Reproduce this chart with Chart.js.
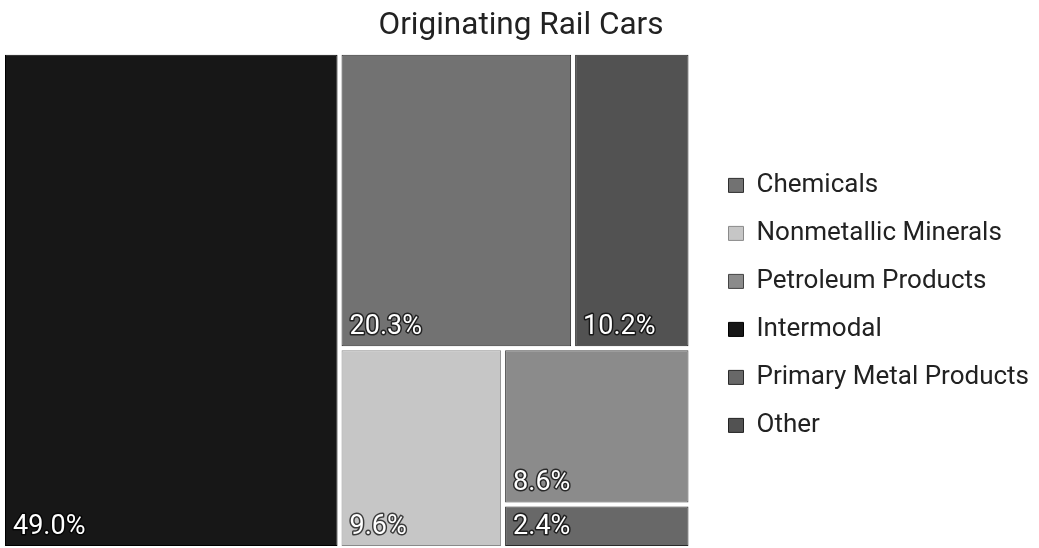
<!DOCTYPE html>
<html>
<head>
<meta charset="utf-8">
<title>Originating Rail Cars</title>
<script src="https://cdn.jsdelivr.net/npm/chart.js@4.4.1/dist/chart.umd.min.js"></script>
<style>
  html, body { margin: 0; padding: 0; background: #ffffff; }
  #box { width: 1039px; height: 548px; }
</style>
</head>
<body>
<div id="box"><canvas id="chart-rail"></canvas></div>
<script>
// Commodity groups, in legend order
const categories = [
  "Chemicals",
  "Nonmetallic Minerals",
  "Petroleum Products",
  "Intermodal",
  "Primary Metal Products",
  "Other",
];
// Share of originating rail cars, percent
const shares = [20.3, 9.6, 8.6, 49.0, 2.4, 10.2];
const shareLabels = shares.map((v) => v.toFixed(1) + "%");

const fillColors = ["#727272", "#c6c6c6", "#8b8b8b", "#171717", "#686868", "#525252"];
const edgeColors = ["#2e2e2e", "#8a8a8a", "#444444", "#000000", "#2a2a2a", "#222222"];

/**
 * Squarified layout (d3 style, with a squareness ratio).
 * Works in a w x h box measured from the top-left; returns one cell per value.
 */
function squarify(values, w, h, ratio) {
  const order = values.map((v, i) => i).sort((a, b) => values[b] - values[a]);
  const cells = new Array(values.length);
  let x0 = 0, y0 = 0;
  const x1 = w, y1 = h;
  let remaining = values.reduce((s, v) => s + v, 0);
  let i0 = 0;

  while (i0 < order.length) {
    const dx = x1 - x0;
    const dy = y1 - y0;
    const alpha = Math.max(dy / dx, dx / dy) / (remaining * ratio);
    let sum = values[order[i0]];
    let minV = sum;
    let maxV = sum;
    let beta = sum * sum * alpha;
    let best = Math.max(maxV / beta, beta / minV);
    let i1 = i0 + 1;
    for (; i1 < order.length; i1++) {
      const v = values[order[i1]];
      const s = sum + v;
      const mn = Math.min(minV, v);
      const mx = Math.max(maxV, v);
      beta = s * s * alpha;
      const r = Math.max(mx / beta, beta / mn);
      if (r > best) break;
      sum = s; minV = mn; maxV = mx; best = r;
    }
    const row = order.slice(i0, i1);
    const last = i1 >= order.length;

    if (dx < dy) {
      // strip along the top edge
      const sh = last ? dy : (dy * sum) / remaining;
      let cx = x0;
      row.forEach((k) => {
        const cw = (dx * values[k]) / sum;
        cells[k] = { x0: cx, y0: y0, x1: cx + cw, y1: y0 + sh };
        cx += cw;
      });
      y0 += sh;
    } else {
      // strip along the left edge
      const sw = last ? dx : (dx * sum) / remaining;
      let cy = y0;
      row.forEach((k) => {
        const ch = (dy * values[k]) / sum;
        cells[k] = { x0: x0, y0: cy, x1: x0 + sw, y1: cy + ch };
        cy += ch;
      });
      x0 += sw;
    }
    remaining -= sum;
    i0 = i1;
  }
  return cells;
}

// Treemap controller: each value becomes a BarElement placed through the x/y scales.
// The map fills x in [0, 1] and y in [0, 1]; the x scale runs a little past 1
// to leave a gutter before the legend.
class TreemapController extends Chart.DatasetController {
  update(mode) {
    const meta = this._cachedMeta;
    this.updateElements(meta.data, 0, meta.data.length, mode);
  }

  updateElements(rects, start, count, mode) {
    const { xScale, yScale } = this._cachedMeta;
    const ds = this.getDataset();
    const pxW = xScale.getPixelForValue(1) - xScale.getPixelForValue(0);
    const pxH = yScale.getPixelForValue(0) - yScale.getPixelForValue(1);
    const aspect = pxW / pxH;
    const cells = squarify(ds.data, aspect, 1, ds.squareRatio || 1);
    const gap = ds.spacing || 0;

    for (let i = start; i < start + count; i++) {
      const c = cells[i];
      const left = xScale.getPixelForValue(c.x0 / aspect) + gap;
      const right = xScale.getPixelForValue(c.x1 / aspect) - gap;
      const top = yScale.getPixelForValue(1 - c.y0) + gap;
      const bottom = yScale.getPixelForValue(1 - c.y1) - gap;
      this.updateElement(rects[i], i, {
        x: (left + right) / 2,
        y: top,
        base: bottom,
        width: right - left,
        height: bottom - top,
        horizontal: false,
        borderSkipped: {},
        inflateAmount: 0,
        enableBorderRadius: false,
        options: this.resolveDataElementOptions(i, mode),
      }, mode);
    }
  }

  draw() {
    const ctx = this.chart.ctx;
    this._cachedMeta.data.forEach((el) => el.draw(ctx));
  }
}
TreemapController.id = "treemap";
TreemapController.defaults = { dataElementType: "bar", datasetElementType: false };
Chart.register(TreemapController);

// Percent label in the lower-left corner of every cell
const shareLabelPlugin = {
  id: "shareLabels",
  afterDatasetsDraw(chart) {
    const ctx = chart.ctx;
    const meta = chart.getDatasetMeta(0);
    ctx.save();
    ctx.font = "400 27px Roboto, sans-serif";
    ctx.textAlign = "left";
    ctx.textBaseline = "alphabetic";
    ctx.lineJoin = "round";
    meta.data.forEach((el, i) => {
      const { x, width, base } = el.getProps(["x", "width", "base"], true);
      const tx = x - width / 2 + 8;
      const ty = base - 12;
      ctx.lineWidth = 3;
      ctx.strokeStyle = "rgba(0,0,0,0.7)";
      ctx.strokeText(shareLabels[i], tx, ty);
      ctx.fillStyle = "#ffffff";
      ctx.fillText(shareLabels[i], tx, ty);
    });
    ctx.restore();
  },
};

const ctx = document.getElementById("chart-rail");
new Chart(ctx, {
  type: "treemap",
  data: {
    labels: categories,
    datasets: [{
      label: "Originating Rail Cars",
      data: shares,
      backgroundColor: fillColors,
      borderColor: edgeColors,
      borderWidth: 1,
      spacing: 2,
      squareRatio: 1.3,
    }],
  },
  options: {
    responsive: true,
    maintainAspectRatio: false,
    animation: false,
    events: [],
    layout: { padding: { left: 3, right: 0, top: 0, bottom: 0 } },
    scales: {
      x: { type: "linear", min: 0, max: 1.0233, bounds: "data", display: false },
      y: { type: "linear", min: 0, max: 1, bounds: "data", display: false },
    },
    plugins: {
      title: {
        display: true,
        text: "Originating Rail Cars",
        color: "#222222",
        font: { family: "Roboto, sans-serif", size: 31.5, weight: "400" },
        padding: { top: 7, bottom: 8 },
      },
      legend: {
        display: true,
        position: "right",
        fullSize: false,
        // empty title only adds a little space above the items
        title: { display: true, text: "", font: { size: 0 }, padding: { top: 10, bottom: 0 } },
        labels: {
          color: "#222222",
          font: { family: "Roboto, sans-serif", size: 26 },
          boxWidth: 15,
          boxHeight: 14,
          padding: 22,
          generateLabels: () =>
            categories.map((text, i) => ({
              text,
              fillStyle: fillColors[i],
              strokeStyle: edgeColors[i],
              lineWidth: 1,
              hidden: false,
              index: i,
              datasetIndex: 0,
              fontColor: "#222222",
            })),
        },
      },
      tooltip: { enabled: false },
    },
  },
  plugins: [shareLabelPlugin],
});
</script>
</body>
</html>
